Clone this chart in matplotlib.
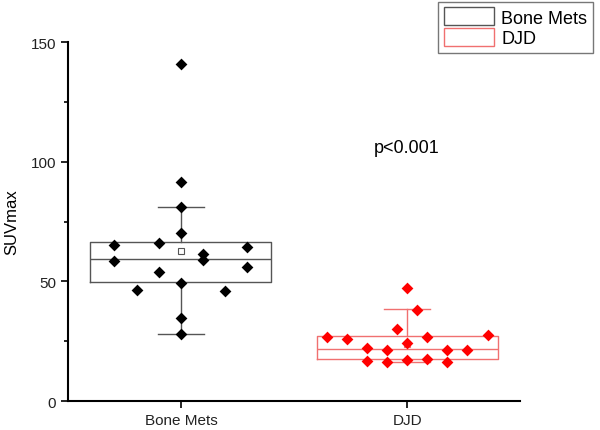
import matplotlib
matplotlib.use("Agg")
import matplotlib.pyplot as plt
from matplotlib.patches import Patch
from matplotlib.ticker import MultipleLocator

plt.rcParams['font.family'] = ['Liberation Sans', 'DejaVu Sans']

# groups
groups = ['Bone Mets', 'DJD']

# SUVmax values
bone_vals = [65.2, 58.6, 46.6, 66.0, 54.0, 140.8, 91.6, 80.9, 70.2,
             49.3, 34.8, 28.0, 61.4, 59.0, 46.1, 64.2, 56.1]
djd_vals = [26.9, 26.0, 22.0, 16.7, 21.3, 16.3, 30.1, 47.3, 24.1,
            17.3, 38.0, 26.9, 17.8, 21.3, 16.4, 21.3, 27.8]

# box statistics (q1, median, q3, whiskers, mean)
bone_stats = dict(q1=49.7, med=59.2, q3=66.3, whislo=28.0, whishi=80.9, mean=62.8)
djd_stats = dict(q1=17.7, med=21.6, q3=27.0, whislo=16.2, whishi=38.3, mean=24.0)

# horizontal slot of each point (in units of the dot spacing)
bone_slots = [-3, -3, -2, -1, -1, 0, 0, 0, 0, 0, 0, 0, 1, 1, 2, 3, 3]
djd_slots = [-4, -3, -2, -2, -1, -1, -0.5, 0, 0, 0, 0.5, 1, 1, 2, 2, 3, 4]

p_text = 'p<0.001'

fig = plt.figure(figsize=(6, 4.31), dpi=100)
ax = fig.add_axes([0.113, 0.067, 0.754, 0.833])

box_colors = ['#555555', '#f07070']
dot_colors = ['black', 'red']
steps = [0.098, 0.089]

for i, (st, vals, slots) in enumerate([(bone_stats, bone_vals, bone_slots),
                                       (djd_stats, djd_vals, djd_slots)]):
    pos = i + 1
    c = box_colors[i]
    ax.bxp([dict(st, fliers=[])], positions=[pos], widths=0.8,
           showmeans=True, showfliers=False,
           boxprops=dict(color=c, linewidth=1.0),
           medianprops=dict(color=c, linewidth=1.0),
           whiskerprops=dict(color=c, linewidth=1.0),
           capprops=dict(color=c, linewidth=1.0),
           meanprops=dict(marker='s', markerfacecolor='white',
                          markeredgecolor=c, markersize=4, markeredgewidth=0.8),
           capwidths=0.2, zorder=2)
    xs = [pos + s * steps[i] for s in slots]
    ax.scatter(xs, vals, marker='D', s=36, color=dot_colors[i], zorder=3,
               linewidths=0)

ax.set_xlim(0.5, 2.5)
ax.set_ylim(0, 150)
ax.set_xticks([1, 2])
ax.set_xticklabels(groups, fontsize=11, color='#222222')
ax.yaxis.set_major_locator(MultipleLocator(50))
ax.yaxis.set_minor_locator(MultipleLocator(25))
ax.tick_params(axis='y', which='major', length=5, width=1.2, labelsize=11,
               labelcolor='#222222')
ax.tick_params(axis='y', which='minor', length=3, width=1.2)
ax.tick_params(axis='x', length=5, width=1.2)
for side in ['top', 'right']:
    ax.spines[side].set_visible(False)
for side in ['left', 'bottom']:
    ax.spines[side].set_linewidth(1.5)
ax.set_ylabel('SUVmax', fontsize=12, labelpad=8)

ax.text(2, 106, p_text, ha='center', va='center', fontsize=13)

handles = [Patch(facecolor='white', edgecolor=box_colors[0]),
           Patch(facecolor='white', edgecolor=box_colors[1])]
fig.legend(handles, groups, loc='upper right', bbox_to_anchor=(0.988, 0.993),
           fontsize=13, frameon=True, fancybox=False, edgecolor='#555555',
           handlelength=2.8, handleheight=1.15, borderpad=0.3,
           labelspacing=0.1, handletextpad=0.4, borderaxespad=0.0)

fig.savefig('out.png', dpi=100)
